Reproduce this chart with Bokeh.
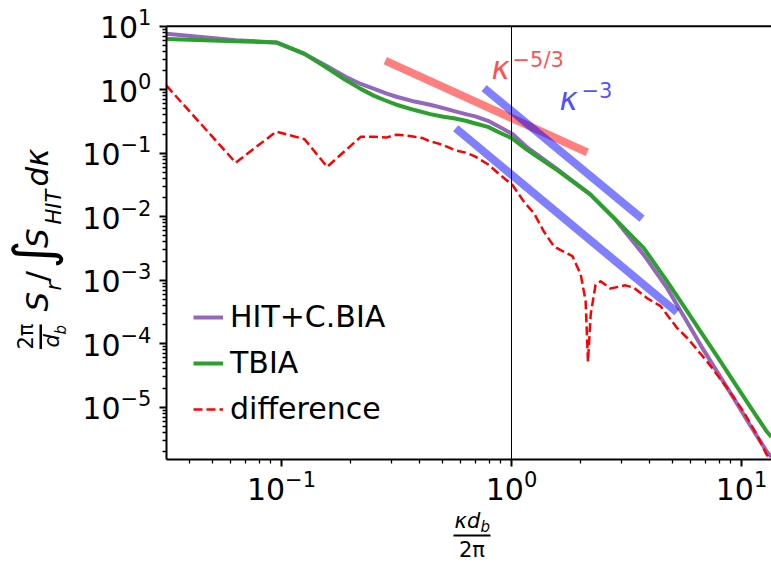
from bokeh.plotting import figure
from bokeh.models import (Label, Legend, LegendItem, FixedTicker, BoxAnnotation,
                          Range1d, CustomJSTickFormatter)
from bokeh.embed import file_html
from bokeh.resources import INLINE

# ---------------- data ----------------
hit_x = [0.0316, 0.0632, 0.0949, 0.126, 0.158, 0.190, 0.221, 0.253, 0.285, 0.316,
         0.379, 0.443, 0.506, 0.569, 0.632, 0.696, 0.79, 0.885, 1.01, 1.17, 1.58,
         2.2, 2.79, 3.76, 4.75, 5.61, 6.63, 7.84, 9.26, 10.9, 12.9, 13.5]
hit_y = [7.6, 6.0, 5.55, 3.66, 2.35, 1.6, 1.23, 1.03, 0.875, 0.775,
         0.65, 0.58, 0.513, 0.455, 0.413, 0.38, 0.324, 0.26, 0.20, 0.123, 0.056,
         0.0225, 0.0095, 2.5e-3, 7.5e-4, 2.7e-4, 9.6e-5, 3.6e-5, 1.38e-5, 5.2e-6, 1.98e-6, 1.65e-6]

tbia_x = [0.0316, 0.0632, 0.0949, 0.126, 0.158, 0.190, 0.221, 0.253, 0.285, 0.316,
          0.379, 0.443, 0.506, 0.569, 0.632, 0.696, 0.79, 0.885, 1.01, 1.17, 1.58,
          2.2, 2.88, 3.76, 4.75, 5.61, 6.63, 7.84, 9.26, 10.9, 12.9, 13.5]
tbia_y = [6.3, 5.8, 5.55, 3.66, 2.2, 1.42, 1.03, 0.80, 0.67, 0.58,
          0.478, 0.413, 0.374, 0.352, 0.324, 0.294, 0.26, 0.212, 0.17, 0.113, 0.054,
          0.0225, 0.0085, 3.2e-3, 9.6e-4, 3.9e-4, 1.56e-4, 6.3e-5, 2.5e-5, 1.02e-5, 4.1e-6, 3.4e-6]

diff_x = [0.0316, 0.0632, 0.0949, 0.126, 0.158, 0.190, 0.221, 0.253, 0.285, 0.316,
          0.348, 0.379, 0.411, 0.443, 0.474, 0.506, 0.569, 0.632, 0.696, 0.79, 0.885,
          1.01, 1.14, 1.25, 1.38, 1.53, 1.66, 1.84, 2.0, 2.10, 2.15, 2.21, 2.32, 2.44,
          2.69, 3.13, 3.40, 3.89, 4.45, 5.25, 5.81, 7.1, 8.67, 10.2, 11.7, 12.9, 13.4]
diff_y = [1.16, 0.071, 0.219, 0.166, 0.061, 0.111, 0.181, 0.181, 0.176, 0.195,
          0.19, 0.181, 0.173, 0.153, 0.144, 0.134, 0.111, 0.102, 0.0885, 0.067, 0.0466,
          0.0316, 0.0166, 0.0115, 0.0059, 0.0034, 0.0029, 0.0024, 0.00123, 0.00047, 5.2e-5,
          2.9e-4, 8.5e-4, 9.6e-4, 7.4e-4, 8.3e-4, 7.6e-4, 5.2e-4, 3.9e-4, 1.76e-4, 1.23e-4,
          5.2e-5, 2.0e-5, 8.5e-6, 3.6e-6, 1.76e-6, 1.5e-6]

# reference slopes (end points)
k53_x = [0.293, 2.06]
k53_y = [2.70, 0.109]
k3a_x = [0.784, 3.58]
k3a_y = [0.964, 0.0102]
k3b_x = [0.59, 5.08]
k3b_y = [0.225, 3.43e-4]

x_major = [0.1, 1.0, 10.0]
x_exp = ["−1", "0", "1"]
y_major = [1e-5, 1e-4, 1e-3, 1e-2, 1e-1, 1.0, 10.0]
y_exp = ["−5", "−4", "−3", "−2", "−1", "0", "1"]
legend_labels = ["HIT+C.BIA", "TBIA", "difference"]

# limits of the drawn axes box
X_LO, X_HI = 10 ** -1.5, 10 ** 1.1304
Y_LO, Y_HI = 1.486e-6, 10.0

PURPLE = "#9467bd"
GREEN = "#2ca02c"
FONT = "DejaVu Sans"
MID = 0.375   # text is anchored at its middle: baseline lies 0.375 em below the anchor

W, H = 771, 568
# the frame covers the whole canvas; the box is drawn with fixed-location axes
p = figure(width=W, height=H, x_axis_type="log", y_axis_type="log",
           x_range=Range1d(10 ** (-511 / 230), 10 ** (260 / 230)),
           y_range=Range1d(10 ** ((89.2 - 568) / 63.5), 10 ** (89.2 / 63.5)),
           output_backend="svg", toolbar_location=None,
           min_border_left=0, min_border_right=0, min_border_top=0,
           min_border_bottom=0)
p.grid.visible = False
p.outline_line_color = None
p.background_fill_color = "white"
p.border_fill_color = "white"

x_minor = [m * d for d in (0.01, 0.1, 1.0, 10.0) for m in range(2, 10) if X_LO < m * d < X_HI]
y_minor = [m * d for d in (1e-6, 1e-5, 1e-4, 1e-3, 1e-2, 1e-1, 1.0) for m in range(2, 10)
           if Y_LO < m * d < Y_HI]
p.xaxis.ticker = FixedTicker(ticks=x_major, minor_ticks=x_minor)
p.yaxis.ticker = FixedTicker(ticks=y_major, minor_ticks=y_minor)
p.xaxis.fixed_location = Y_LO
p.yaxis.fixed_location = X_LO
p.xaxis.bounds = (X_LO, X_HI)
p.yaxis.bounds = (Y_LO, Y_HI)

for ax in (p.xaxis[0], p.yaxis[0]):
    ax.formatter = CustomJSTickFormatter(code="return ''")
    ax.axis_line_width = 2
    ax.axis_line_color = "black"
    ax.major_tick_line_width = 2
    ax.minor_tick_line_width = 1.3
    ax.major_tick_out = 7
    ax.major_tick_in = 0
    ax.minor_tick_out = 4
    ax.minor_tick_in = 0
    ax.axis_label = None

# top spine
p.segment(x0=[X_LO], y0=[Y_HI], x1=[X_HI], y1=[Y_HI], line_color="black", line_width=2)

r_hit = p.line(hit_x, hit_y, line_color=PURPLE, line_width=4, line_join="round")
r_tbia = p.line(tbia_x, tbia_y, line_color=GREEN, line_width=4, line_join="round")
r_diff = p.line(diff_x, diff_y, line_color="red", line_width=2.5, line_dash="9 4",
                line_join="round")

p.line(k53_x, k53_y, line_color="red", line_alpha=0.5, line_width=8, line_cap="square")
p.line(k3a_x, k3a_y, line_color="blue", line_alpha=0.5, line_width=8, line_cap="square")
p.line(k3b_x, k3b_y, line_color="blue", line_alpha=0.5, line_width=8, line_cap="square")

# marker line at kappa d_b / 2 pi = 1
p.segment(x0=[1.0], y0=[Y_LO], x1=[1.0], y1=[Y_HI], line_color="black", line_width=1)

legend = Legend(items=[LegendItem(label=legend_labels[0], renderers=[r_hit]),
                       LegendItem(label=legend_labels[1], renderers=[r_tbia]),
                       LegendItem(label=legend_labels[2], renderers=[r_diff])],
                location=(193, 142), border_line_color=None, background_fill_alpha=0,
                label_text_font=FONT, label_text_font_size="30px",
                label_text_color="black",
                glyph_width=30, glyph_height=30, label_standoff=7, spacing=11,
                padding=0, margin=0)
p.add_layout(legend)

# ---- tick labels: "10" with a superscript exponent, placed through the scales ----
BASE_W = 38.2          # width of "10" at 30px


def exp_w(s):
    return sum(17.6 if ch == "−" else 13.4 for ch in s)


for v, e in zip(y_major, y_exp):
    end = 151 - exp_w(e)
    # digits baseline 12.5px below the tick, exponent baseline 1px above it
    p.add_layout(Label(x=end, y=v, x_units="screen", y_units="data",
                       y_offset=-(12.5 - MID * 30),
                       text="10", text_font=FONT, text_font_size="30px",
                       text_color="black", text_align="right", text_baseline="middle"))
    p.add_layout(Label(x=end, y=v, x_units="screen", y_units="data",
                       y_offset=1 + MID * 21,
                       text=e, text_font=FONT, text_font_size="21px",
                       text_color="black", text_align="left", text_baseline="middle"))

for v, e in zip(x_major, x_exp):
    w = BASE_W + exp_w(e)
    p.add_layout(Label(x=v, y=H - (500 - MID * 30), x_units="data", y_units="screen",
                       x_offset=-w / 2,
                       text="10", text_font=FONT, text_font_size="30px",
                       text_color="black", text_align="left", text_baseline="middle"))
    p.add_layout(Label(x=v, y=H - (486.6 - MID * 21), x_units="data", y_units="screen",
                       x_offset=-w / 2 + BASE_W,
                       text=e, text_font=FONT, text_font_size="21px",
                       text_color="black", text_align="left", text_baseline="middle"))


# ----- helper: text whose baseline starts at page pixel (px, py) -----
def txt(text, px, py, size, color="black", alpha=1.0, italic=False, angle=0,
        align="left"):
    if angle == 90:
        px = px - MID * size      # baseline is to the right of the anchor
    else:
        py = py - MID * size      # baseline is below the anchor
    p.add_layout(Label(x=px, y=H - py, x_units="screen", y_units="screen",
                       text=text, text_font=FONT, text_font_size=f"{size}px",
                       text_font_style="italic" if italic else "normal",
                       text_color=color, text_alpha=alpha, angle=angle,
                       angle_units="deg", text_align=align, text_baseline="middle"))


def bar(x0, x1, y0, y1):
    p.add_layout(BoxAnnotation(left=x0, right=x1, bottom=H - y1, top=H - y0,
                               left_units="screen", right_units="screen",
                               bottom_units="screen", top_units="screen",
                               fill_color="black", fill_alpha=1.0, line_color=None))


# slope annotations
txt("κ", 491, 79, 31, color="red", alpha=0.7, italic=True)
txt("−5/3", 512, 67, 21, color="red", alpha=0.7)
txt("κ", 559, 110, 31, color="blue", alpha=0.7, italic=True)
txt("−3", 581, 97, 21, color="blue", alpha=0.7)

# x axis label: kappa d_b / 2 pi
txt("κd", 454, 528, 21, italic=True)
txt("b", 480, 532, 15, italic=True)
bar(453, 490, 534, 536)
txt("2π", 471.5, 557, 21, align="center")

# y axis label (rotated): 2pi/d_b S_r / int S_HIT dkappa
txt("2π", 33.3, 336, 21, angle=90, align="center")
bar(39, 41.5, 324, 348.5)
txt("d", 59.5, 347, 21, italic=True, angle=90)
txt("b", 66.5, 334, 15, italic=True, angle=90)
txt("S", 48.3, 311, 31, italic=True, angle=90)
txt("r", 61.7, 290, 21, italic=True, angle=90)
txt("/", 48.3, 281, 31, angle=90)
txt("∫", 53, 268, 54, angle=90)
txt("S", 48.3, 247.5, 31, italic=True, angle=90)
txt("HIT", 61.7, 224, 21, italic=True, angle=90)
txt("dκ", 48.3, 186, 31, italic=True, angle=90)

open("out.html", "w").write(file_html(p, INLINE))
